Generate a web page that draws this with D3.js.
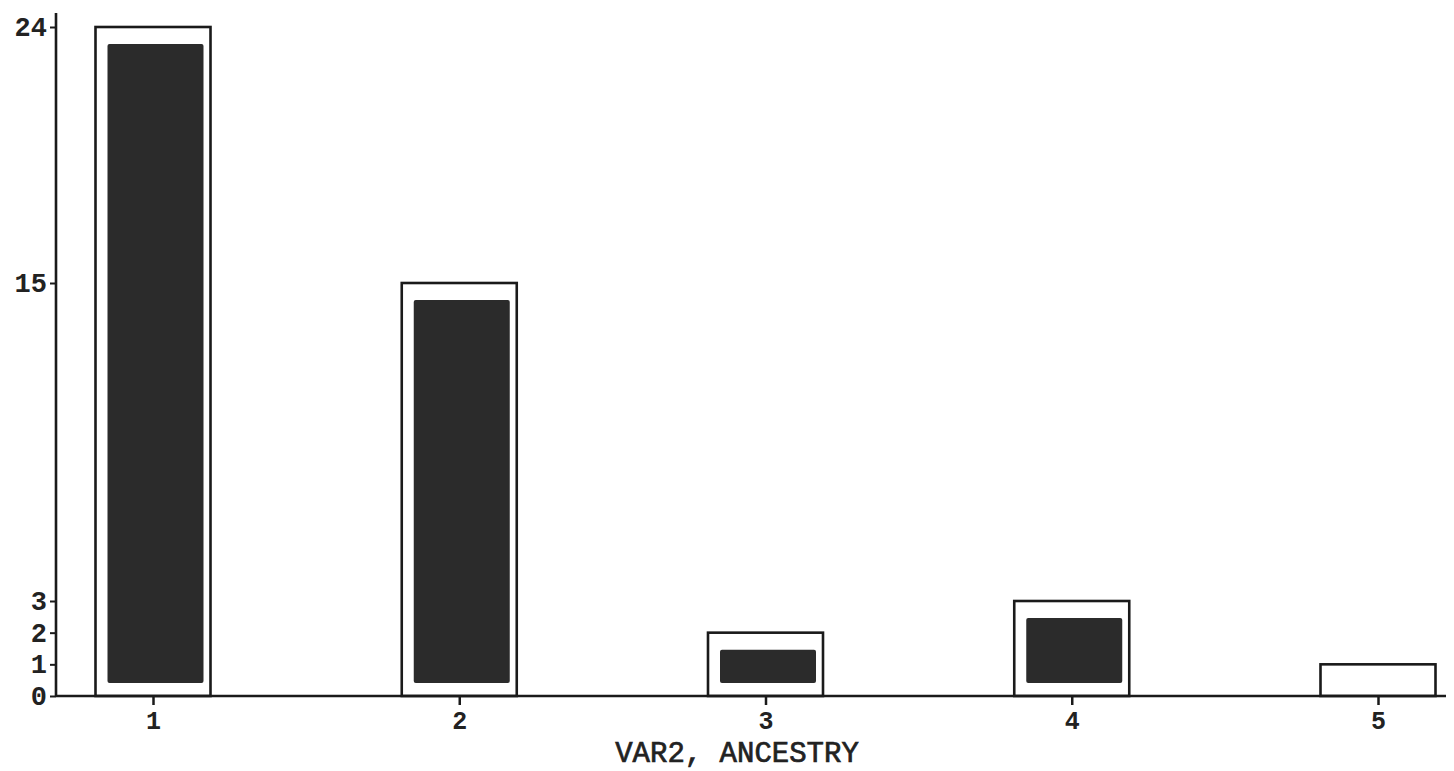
<!DOCTYPE html>
<html>
<head>
<meta charset="utf-8">
<script src="https://cdn.jsdelivr.net/npm/d3@7"></script>
<style>
  html, body { margin: 0; padding: 0; background: #fff; }
  svg { display: block; }
  text { font-family: "Liberation Mono", "Courier New", monospace; fill: #222; }
</style>
</head>
<body>
<svg id="chart" width="1454" height="771"></svg>
<script>
// ---- data ----
const categories = ["1", "2", "3", "4", "5"];
const counts = [24, 15, 2, 3, 1];
const shaded = [true, true, true, true, false];
const yTicks = [0, 1, 2, 3, 15, 24];
const xLabel = "VAR2, ANCESTRY";

// ---- layout ----
const W = 1454, H = 771;
const axisX = 56, baseY = 696, axisRight = 1446, axisTop = 13;
const barW = 115;

const svg = d3.select("#chart");

const x = d3.scalePoint().domain(categories).range([153, 1378]);
// the printed axis is not quite linear; piecewise-linear scale follows the tick marks
const y = d3.scaleLinear().domain([0, 3, 15, 24]).range([baseY, 601, 283, 27]);

const data = categories.map((c, i) => ({ c, v: counts[i], s: shaded[i] }));

// outer bars
svg.append("g").selectAll("rect").data(data).join("rect")
  .attr("x", d => x(d.c) - barW / 2)
  .attr("y", d => y(d.v))
  .attr("width", barW)
  .attr("height", d => y(0) - y(d.v))
  .attr("fill", "#fff")
  .attr("stroke", "#1a1a1a")
  .attr("stroke-width", 2.6);

// inner shaded bars
svg.append("g").selectAll("rect").data(data.filter(d => d.s)).join("rect")
  .attr("x", d => x(d.c) - barW / 2 + 12)
  .attr("y", d => y(d.v) + 17)
  .attr("width", barW - 19)
  .attr("height", d => y(0) - y(d.v) - 30)
  .attr("rx", 2)
  .attr("fill", "#2b2b2b");

// y axis
const yAxis = d3.axisLeft(y).tickValues(yTicks).tickSize(6).tickPadding(3).tickFormat(d3.format("d"));
const gy = svg.append("g").attr("transform", `translate(${axisX},0)`).call(yAxis);
gy.select(".domain").remove();
gy.selectAll(".tick line").attr("stroke", "#1a1a1a").attr("stroke-width", 2);
gy.selectAll(".tick text")
  .attr("font-size", 27).attr("font-weight", "bold")
  .attr("font-family", "Liberation Mono, monospace")
  .attr("fill", "#222");
svg.append("line")
  .attr("x1", axisX).attr("x2", axisX)
  .attr("y1", axisTop).attr("y2", baseY)
  .attr("stroke", "#1a1a1a").attr("stroke-width", 2.6);

// x axis
const xAxis = d3.axisBottom(x).tickSize(9).tickPadding(6);
const gx = svg.append("g").attr("transform", `translate(0,${baseY})`).call(xAxis);
gx.select(".domain").remove();
gx.selectAll(".tick line").attr("stroke", "#1a1a1a").attr("stroke-width", 2.5);
gx.selectAll(".tick text")
  .attr("font-size", 25).attr("font-weight", "bold")
  .attr("font-family", "Liberation Mono, monospace")
  .attr("fill", "#222");
svg.append("line")
  .attr("x1", axisX).attr("x2", axisRight)
  .attr("y1", baseY).attr("y2", baseY)
  .attr("stroke", "#1a1a1a").attr("stroke-width", 2.6);

// x label
svg.append("text")
  .attr("x", 737)
  .attr("y", 762)
  .attr("text-anchor", "middle")
  .attr("font-size", 29)
  .attr("fill", "#222")
  .attr("stroke", "#222")
  .attr("stroke-width", 0.7)
  .text(xLabel);
</script>
</body>
</html>
